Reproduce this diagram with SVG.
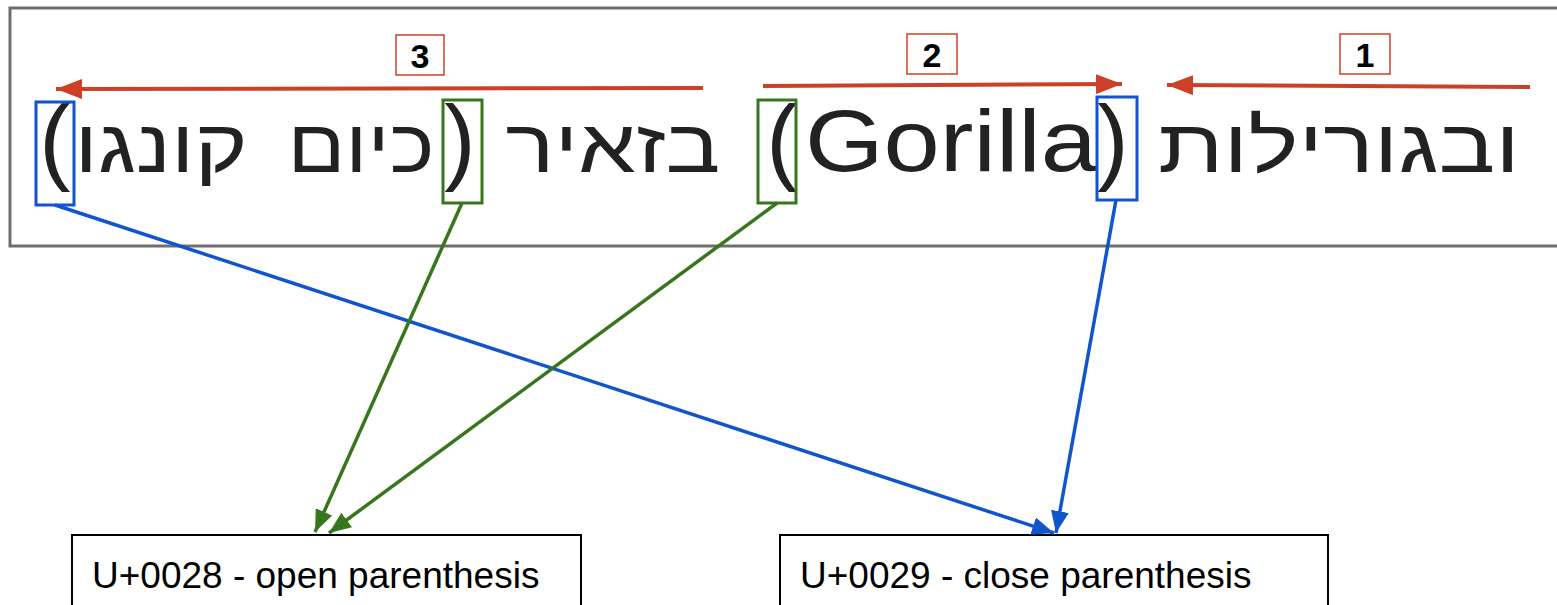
<svg xmlns="http://www.w3.org/2000/svg" width="1557" height="605" viewBox="0 0 1557 605">
<style>
.big{font-family:"Liberation Sans",Arial,sans-serif;font-size:88px;fill:#222;text-anchor:middle}
.heb{font-family:"Liberation Sans","DejaVu Sans",sans-serif;font-size:75px;fill:#222;text-anchor:middle}
.par{font-family:"Liberation Sans","DejaVu Sans",sans-serif;font-size:94px;fill:#222;text-anchor:middle}
.num{font-family:"Liberation Sans",Arial,sans-serif;font-size:34px;font-weight:bold;fill:#000;text-anchor:middle}
.lbl{font-family:"Liberation Sans",Arial,sans-serif;font-size:37px;fill:#000}
.nbox{fill:#fff;stroke:#cc4125;stroke-width:1.5}
.red{stroke:#cc4125;stroke-width:4;fill:none;marker-end:url(#ar)}
.blue{stroke:#1155cc;stroke-width:3.5;fill:none}
.green{stroke:#38761d;stroke-width:3.5;fill:none}
.bl{marker-end:url(#ab)}
.gl{marker-end:url(#ag)}
</style>
<defs>
<marker id="ar" viewBox="0 0 10 10" refX="10" refY="5" markerWidth="26" markerHeight="20" markerUnits="userSpaceOnUse" orient="auto" preserveAspectRatio="none"><path d="M0,0 L10,5 L0,10 z" fill="#cc4125"/></marker>
<marker id="ab" viewBox="0 0 10 10" refX="10" refY="5" markerWidth="22" markerHeight="18" markerUnits="userSpaceOnUse" orient="auto" preserveAspectRatio="none"><path d="M0,0 L10,5 L0,10 z" fill="#1155cc"/></marker>
<marker id="ag" viewBox="0 0 10 10" refX="10" refY="5" markerWidth="22" markerHeight="18" markerUnits="userSpaceOnUse" orient="auto" preserveAspectRatio="none"><path d="M0,0 L10,5 L0,10 z" fill="#38761d"/></marker>
</defs>
<rect width="1557" height="605" fill="#fff"/>
<g id="sentence">
<rect x="10" y="8" width="1560" height="238" fill="#fff" stroke="#6e6e6e" stroke-width="3"/>
<text class="heb" x="1339" y="172" textLength="362" lengthAdjust="spacingAndGlyphs">ובגורילות</text>
<text class="par" x="1113" y="172">)</text>
<text class="big" x="951" y="171" textLength="292" lengthAdjust="spacingAndGlyphs">Gorilla</text>
<text class="par" x="782" y="172">(</text>
<text class="heb" x="613" y="172" textLength="215" lengthAdjust="spacingAndGlyphs">בזאיר</text>
<text class="par" x="460" y="172">)</text>
<text class="heb" x="361" y="172" textLength="147" lengthAdjust="spacingAndGlyphs">כיום</text>
<text class="heb" x="161" y="172" textLength="173" lengthAdjust="spacingAndGlyphs">קונגו</text>
<text class="par" x="55" y="172">(</text>
</g>
<g id="markers">
<rect x="36" y="102" width="38" height="103" fill="none" stroke="#1155cc" stroke-width="3"/>
<rect x="443" y="100" width="39" height="103" fill="none" stroke="#38761d" stroke-width="3"/>
<rect x="758" y="100" width="38" height="103" fill="none" stroke="#38761d" stroke-width="3"/>
<rect x="1097" y="97" width="40" height="103" fill="none" stroke="#1155cc" stroke-width="3"/>
</g>
<g id="step1"><rect class="nbox" x="1340" y="34" width="50" height="40"/><text class="num" x="1365" y="67">1</text></g>
<g id="step2"><rect class="nbox" x="907" y="34" width="50" height="40"/><text class="num" x="932" y="67">2</text></g>
<g id="step3"><rect class="nbox" x="396" y="35" width="48" height="40"/><text class="num" x="420" y="68">3</text></g>
<g id="open-paren"><rect x="72" y="535" width="509" height="90" fill="#fff" stroke="#000" stroke-width="2"/><text class="lbl" x="92" y="588">U+0028 - open parenthesis</text></g>
<g id="close-paren"><rect x="780" y="535" width="548" height="90" fill="#fff" stroke="#000" stroke-width="2"/><text class="lbl" x="800" y="588">U+0029 - close parenthesis</text></g>
<g id="connectors">
<line class="red" x1="1530" y1="87" x2="1167" y2="85"/>
<line class="red" x1="763" y1="86" x2="1122" y2="84"/>
<line class="red" x1="703" y1="88" x2="56" y2="89"/>
<line class="blue bl" x1="55" y1="205" x2="1054" y2="533"/>
<line class="blue bl" x1="1116" y1="200" x2="1056" y2="533"/>
<line class="green gl" x1="462" y1="203" x2="315" y2="532"/>
<line class="green gl" x1="777" y1="203" x2="329" y2="533"/>
</g>
</svg>
